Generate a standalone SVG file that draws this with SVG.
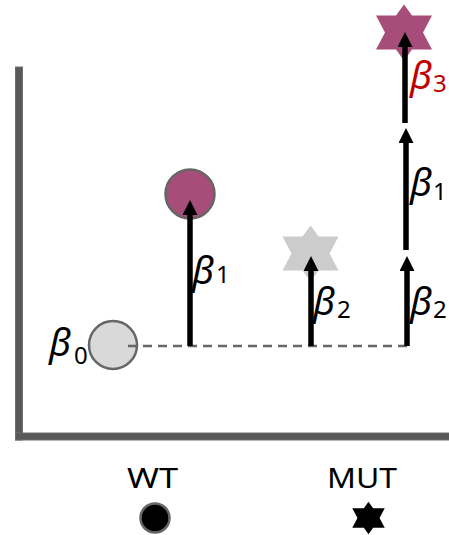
<svg xmlns="http://www.w3.org/2000/svg" width="449" height="535" viewBox="0 0 449 535">
<defs>
<marker id="ah" viewBox="0 0 15 15" markerWidth="15" markerHeight="15" refX="0" refY="7.5" orient="auto" markerUnits="userSpaceOnUse">
<path d="M0,0 L15,7.5 L0,15 Z" fill="#000"/>
</marker>
<path id="star" d="M0,-28 L8,-17 L28,-17 L19,0 L28,17 L8,17 L0,28 L-8,17 L-28,17 L-19,0 L-28,-17 L-8,-17 Z"/>
</defs>
<style>
.axis{fill:#595959;stroke:#6e6e6e;stroke-width:1}
.beta{font-family:"Noto Sans","DejaVu Sans",sans-serif;font-style:italic;font-size:38px;fill:#000}
.sub{font-family:"Noto Sans","DejaVu Sans",sans-serif;font-size:24px;fill:#000}
.lbl{font-family:"Noto Sans","DejaVu Sans",sans-serif;font-size:27px;fill:#000}
.arr{stroke:#000;stroke-width:5.5;fill:none;marker-end:url(#ah)}
.dash{stroke:#666;stroke-width:2.5;stroke-dasharray:9 6;fill:none}
.red{fill:#c00000}
</style>
<g id="axes">
<rect class="axis" x="15.5" y="67" width="7" height="373"/>
<rect class="axis" x="15.5" y="433" width="440" height="7"/>
</g>
<g id="wt-base">
<circle cx="113" cy="345" r="24" fill="#d9d9d9" stroke="#666" stroke-width="2.5"/>
<text class="beta" x="49" y="356">β</text><text class="sub" x="74" y="364">0</text>
</g>
<g id="wt-mut-effect">
<circle cx="190" cy="194" r="24.5" fill="#a64d79" stroke="#666" stroke-width="2.5"/>
</g>
<g id="mut-wt">
<use href="#star" x="310.5" y="253.5" fill="#cccccc"/>
</g>
<g id="mut-mut">
<use href="#star" x="404" y="32.5" fill="#a64d79"/>
</g>
<g id="connectors">
<line class="dash" x1="128" y1="346" x2="407" y2="346"/>
<line class="arr" x1="190" y1="346" x2="190" y2="215"/>
<line class="arr" x1="311" y1="346" x2="311" y2="271"/>
<line class="arr" x1="407" y1="346" x2="407" y2="271"/>
<line class="arr" x1="406" y1="250" x2="406" y2="143"/>
<line class="arr" x1="405" y1="123" x2="405" y2="47"/>
</g>
<g id="labels">
<text class="beta" x="192" y="284">β</text><text class="sub" x="216" y="283">1</text>
<text class="beta" x="313" y="315">β</text><text class="sub" x="337" y="318">2</text>
<text class="beta" x="410" y="315">β</text><text class="sub" x="433" y="318">2</text>
<text class="beta" x="410" y="196">β</text><text class="sub" x="433" y="200">1</text>
<text class="beta red" x="410" y="89">β</text><text class="sub red" x="433" y="92">3</text>
</g>
<g id="legend-wt">
<text class="lbl" x="152.5" y="488" text-anchor="middle" textLength="51" lengthAdjust="spacingAndGlyphs">WT</text>
<circle cx="155" cy="518" r="14.5" fill="#000" stroke="#666" stroke-width="2.5"/>
</g>
<g id="legend-mut">
<text class="lbl" x="362" y="488" text-anchor="middle" textLength="70" lengthAdjust="spacingAndGlyphs">MUT</text>
<use href="#star" transform="translate(368.5 518) scale(0.58)" fill="#000"/>
</g>
</svg>
